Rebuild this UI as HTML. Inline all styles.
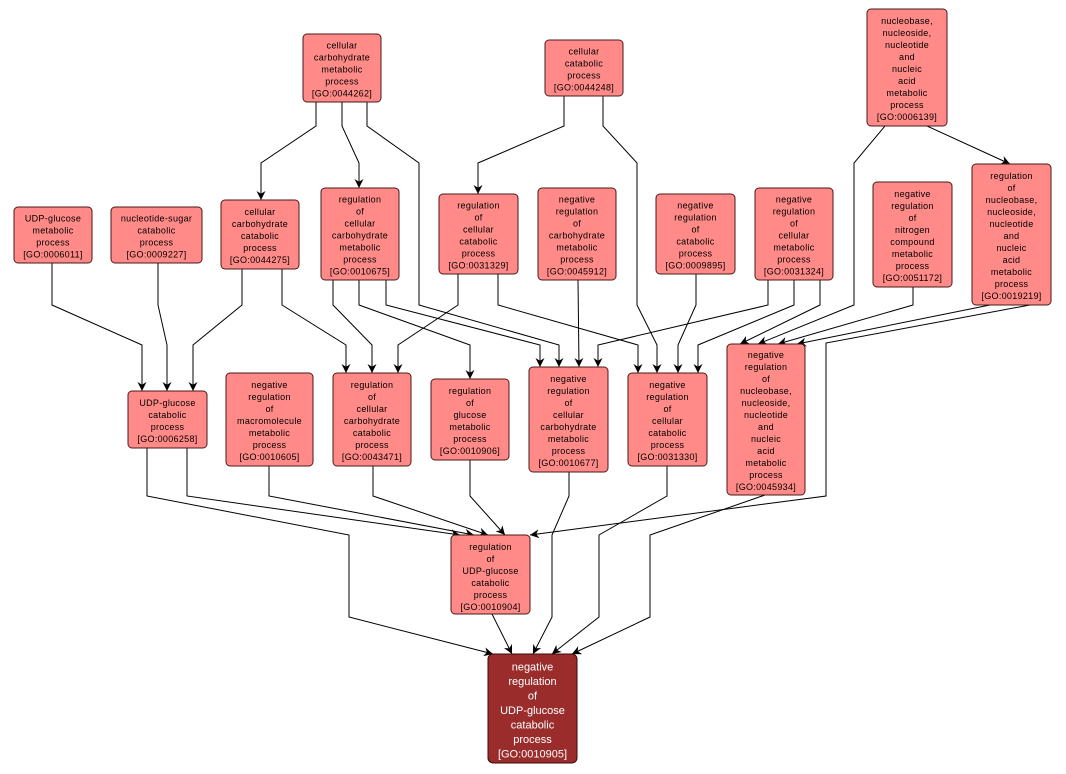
<!DOCTYPE html>
<html><head><meta charset="utf-8"><style>
html,body{margin:0;padding:0;background:#fff;}
svg{display:block;}
text{font-family:"Liberation Sans",sans-serif;font-size:9px;fill:#000;text-anchor:middle;letter-spacing:0.3px;transform:translateY(1.5px);}
.t text{fill:#fff;font-size:11px;letter-spacing:0;}
rect.n{fill:#ff8a87;stroke:#4a1a1a;stroke-width:1;}
path{fill:none;stroke:#000;stroke-width:1;}
</style></head><body>
<svg width="1066" height="774" viewBox="0 0 1066 774">
<defs><marker id="a" viewBox="0 0 10 10" refX="10" refY="5" markerWidth="9" markerHeight="9" orient="auto" markerUnits="userSpaceOnUse"><path d="M0,0 L10,5 L0,10 L3,5 Z" style="fill:#000;stroke:none"/></marker></defs>
<g marker-end="url(#a)">
<path d="M316,102 V126 L261,163 V200"/>
<path d="M342,102 V126 L359,163 V188"/>
<path d="M367,102 V126 L419,163 V305 L559,345 V367"/>
<path d="M564,96 V126 L478,163 V194"/>
<path d="M603,96 V126 L637,163 V305 L657,345 V373"/>
<path d="M927,126 L1010,164"/>
<path d="M885,126 L854,163 V305 L758,344"/>
<path d="M52,263 V305 L142,345 V391"/>
<path d="M158,263 V305 L167,345 V391"/>
<path d="M242,269 V305 L193,345 V391"/>
<path d="M282,269 V305 L346,345 V373"/>
<path d="M333,280 V305 L372,345 V373"/>
<path d="M359,280 V305 L470,345 V379"/>
<path d="M386,280 V305 L540,345 V367"/>
<path d="M458,274 V305 L398,345 V373"/>
<path d="M498,274 V305 L638,345 V373"/>
<path d="M578,280 L579,367"/>
<path d="M696,274 V305 L678,345 V373"/>
<path d="M768,280 V305 L598,345 V367"/>
<path d="M794,280 V305 L698,345 V373"/>
<path d="M820,280 V305 L740,344"/>
<path d="M913,287 V305 L778,344"/>
<path d="M990,305 L797,344"/>
<path d="M1030,305 L826,343 V496 L530,535"/>
<path d="M187,448 V496 L460,535"/>
<path d="M269,466 V496 L474,535"/>
<path d="M373,466 V496 L488,535"/>
<path d="M470,460 V496 L505,535"/>
<path d="M147,448 V496 L349,535 V617 L493,654"/>
<path d="M492,614 L512,654"/>
<path d="M569,472 V496 L552,535 V617 L533,654"/>
<path d="M667,466 V496 L599,535 V617 L552,654"/>
<path d="M765,495 L650,535 V617 L572,654"/>
</g>
<rect class="n" x="303" y="34" width="78" height="68" rx="4"/>
<text x="342" y="47"><tspan x="342">cellular</tspan><tspan x="342" dy="12">carbohydrate</tspan><tspan x="342" dy="12">metabolic</tspan><tspan x="342" dy="12">process</tspan><tspan x="342" dy="12">[GO:0044262]</tspan></text>
<rect class="n" x="545" y="40" width="78" height="56" rx="4"/>
<text x="584" y="53"><tspan x="584">cellular</tspan><tspan x="584" dy="12">catabolic</tspan><tspan x="584" dy="12">process</tspan><tspan x="584" dy="12">[GO:0044248]</tspan></text>
<rect class="n" x="867" y="9" width="80" height="117" rx="4"/>
<text x="907" y="22.5"><tspan x="907">nucleobase,</tspan><tspan x="907" dy="12">nucleoside,</tspan><tspan x="907" dy="12">nucleotide</tspan><tspan x="907" dy="12">and</tspan><tspan x="907" dy="12">nucleic</tspan><tspan x="907" dy="12">acid</tspan><tspan x="907" dy="12">metabolic</tspan><tspan x="907" dy="12">process</tspan><tspan x="907" dy="12">[GO:0006139]</tspan></text>
<rect class="n" x="14" y="207" width="78" height="56" rx="4"/>
<text x="53" y="220"><tspan x="53">UDP-glucose</tspan><tspan x="53" dy="12">metabolic</tspan><tspan x="53" dy="12">process</tspan><tspan x="53" dy="12">[GO:0006011]</tspan></text>
<rect class="n" x="111" y="207" width="91" height="56" rx="4"/>
<text x="156.5" y="220"><tspan x="156.5">nucleotide-sugar</tspan><tspan x="156.5" dy="12">catabolic</tspan><tspan x="156.5" dy="12">process</tspan><tspan x="156.5" dy="12">[GO:0009227]</tspan></text>
<rect class="n" x="221" y="200" width="78" height="69" rx="4"/>
<text x="260" y="213.5"><tspan x="260">cellular</tspan><tspan x="260" dy="12">carbohydrate</tspan><tspan x="260" dy="12">catabolic</tspan><tspan x="260" dy="12">process</tspan><tspan x="260" dy="12">[GO:0044275]</tspan></text>
<rect class="n" x="321" y="188" width="78" height="92" rx="4"/>
<text x="360" y="201"><tspan x="360">regulation</tspan><tspan x="360" dy="12">of</tspan><tspan x="360" dy="12">cellular</tspan><tspan x="360" dy="12">carbohydrate</tspan><tspan x="360" dy="12">metabolic</tspan><tspan x="360" dy="12">process</tspan><tspan x="360" dy="12">[GO:0010675]</tspan></text>
<rect class="n" x="439" y="194" width="79" height="80" rx="4"/>
<text x="478.5" y="207"><tspan x="478.5">regulation</tspan><tspan x="478.5" dy="12">of</tspan><tspan x="478.5" dy="12">cellular</tspan><tspan x="478.5" dy="12">catabolic</tspan><tspan x="478.5" dy="12">process</tspan><tspan x="478.5" dy="12">[GO:0031329]</tspan></text>
<rect class="n" x="538" y="188" width="78" height="92" rx="4"/>
<text x="577" y="201"><tspan x="577">negative</tspan><tspan x="577" dy="12">regulation</tspan><tspan x="577" dy="12">of</tspan><tspan x="577" dy="12">carbohydrate</tspan><tspan x="577" dy="12">metabolic</tspan><tspan x="577" dy="12">process</tspan><tspan x="577" dy="12">[GO:0045912]</tspan></text>
<rect class="n" x="656" y="194" width="79" height="80" rx="4"/>
<text x="695.5" y="207"><tspan x="695.5">negative</tspan><tspan x="695.5" dy="12">regulation</tspan><tspan x="695.5" dy="12">of</tspan><tspan x="695.5" dy="12">catabolic</tspan><tspan x="695.5" dy="12">process</tspan><tspan x="695.5" dy="12">[GO:0009895]</tspan></text>
<rect class="n" x="755" y="188" width="78" height="92" rx="4"/>
<text x="794" y="201"><tspan x="794">negative</tspan><tspan x="794" dy="12">regulation</tspan><tspan x="794" dy="12">of</tspan><tspan x="794" dy="12">cellular</tspan><tspan x="794" dy="12">metabolic</tspan><tspan x="794" dy="12">process</tspan><tspan x="794" dy="12">[GO:0031324]</tspan></text>
<rect class="n" x="873" y="182" width="79" height="105" rx="4"/>
<text x="912.5" y="195.5"><tspan x="912.5">negative</tspan><tspan x="912.5" dy="12">regulation</tspan><tspan x="912.5" dy="12">of</tspan><tspan x="912.5" dy="12">nitrogen</tspan><tspan x="912.5" dy="12">compound</tspan><tspan x="912.5" dy="12">metabolic</tspan><tspan x="912.5" dy="12">process</tspan><tspan x="912.5" dy="12">[GO:0051172]</tspan></text>
<rect class="n" x="972" y="164" width="79" height="141" rx="4"/>
<text x="1011.5" y="177.5"><tspan x="1011.5">regulation</tspan><tspan x="1011.5" dy="12">of</tspan><tspan x="1011.5" dy="12">nucleobase,</tspan><tspan x="1011.5" dy="12">nucleoside,</tspan><tspan x="1011.5" dy="12">nucleotide</tspan><tspan x="1011.5" dy="12">and</tspan><tspan x="1011.5" dy="12">nucleic</tspan><tspan x="1011.5" dy="12">acid</tspan><tspan x="1011.5" dy="12">metabolic</tspan><tspan x="1011.5" dy="12">process</tspan><tspan x="1011.5" dy="12">[GO:0019219]</tspan></text>
<rect class="n" x="128" y="391" width="79" height="57" rx="4"/>
<text x="167.5" y="404.5"><tspan x="167.5">UDP-glucose</tspan><tspan x="167.5" dy="12">catabolic</tspan><tspan x="167.5" dy="12">process</tspan><tspan x="167.5" dy="12">[GO:0006258]</tspan></text>
<rect class="n" x="226" y="373" width="87" height="93" rx="4"/>
<text x="269.5" y="386.5"><tspan x="269.5">negative</tspan><tspan x="269.5" dy="12">regulation</tspan><tspan x="269.5" dy="12">of</tspan><tspan x="269.5" dy="12">macromolecule</tspan><tspan x="269.5" dy="12">metabolic</tspan><tspan x="269.5" dy="12">process</tspan><tspan x="269.5" dy="12">[GO:0010605]</tspan></text>
<rect class="n" x="333" y="373" width="78" height="93" rx="4"/>
<text x="372" y="386.5"><tspan x="372">regulation</tspan><tspan x="372" dy="12">of</tspan><tspan x="372" dy="12">cellular</tspan><tspan x="372" dy="12">carbohydrate</tspan><tspan x="372" dy="12">catabolic</tspan><tspan x="372" dy="12">process</tspan><tspan x="372" dy="12">[GO:0043471]</tspan></text>
<rect class="n" x="431" y="379" width="78" height="81" rx="4"/>
<text x="470" y="392.5"><tspan x="470">regulation</tspan><tspan x="470" dy="12">of</tspan><tspan x="470" dy="12">glucose</tspan><tspan x="470" dy="12">metabolic</tspan><tspan x="470" dy="12">process</tspan><tspan x="470" dy="12">[GO:0010906]</tspan></text>
<rect class="n" x="529" y="367" width="79" height="105" rx="4"/>
<text x="568.5" y="380.5"><tspan x="568.5">negative</tspan><tspan x="568.5" dy="12">regulation</tspan><tspan x="568.5" dy="12">of</tspan><tspan x="568.5" dy="12">cellular</tspan><tspan x="568.5" dy="12">carbohydrate</tspan><tspan x="568.5" dy="12">metabolic</tspan><tspan x="568.5" dy="12">process</tspan><tspan x="568.5" dy="12">[GO:0010677]</tspan></text>
<rect class="n" x="628" y="373" width="79" height="93" rx="4"/>
<text x="667.5" y="386.5"><tspan x="667.5">negative</tspan><tspan x="667.5" dy="12">regulation</tspan><tspan x="667.5" dy="12">of</tspan><tspan x="667.5" dy="12">cellular</tspan><tspan x="667.5" dy="12">catabolic</tspan><tspan x="667.5" dy="12">process</tspan><tspan x="667.5" dy="12">[GO:0031330]</tspan></text>
<rect class="n" x="727" y="344" width="78" height="151" rx="4"/>
<text x="766" y="356.5"><tspan x="766">negative</tspan><tspan x="766" dy="12">regulation</tspan><tspan x="766" dy="12">of</tspan><tspan x="766" dy="12">nucleobase,</tspan><tspan x="766" dy="12">nucleoside,</tspan><tspan x="766" dy="12">nucleotide</tspan><tspan x="766" dy="12">and</tspan><tspan x="766" dy="12">nucleic</tspan><tspan x="766" dy="12">acid</tspan><tspan x="766" dy="12">metabolic</tspan><tspan x="766" dy="12">process</tspan><tspan x="766" dy="12">[GO:0045934]</tspan></text>
<rect class="n" x="451" y="535" width="79" height="79" rx="4"/>
<text x="490.5" y="548.5"><tspan x="490.5">regulation</tspan><tspan x="490.5" dy="12">of</tspan><tspan x="490.5" dy="12">UDP-glucose</tspan><tspan x="490.5" dy="12">catabolic</tspan><tspan x="490.5" dy="12">process</tspan><tspan x="490.5" dy="12">[GO:0010904]</tspan></text>
<rect x="488" y="654" width="89" height="109" rx="5" style="fill:#9a2c2c;stroke:#3a0a0a;stroke-width:1"/>
<g class="t"><text x="532.5" y="669"><tspan x="532.5">negative</tspan><tspan x="532.5" dy="14.5">regulation</tspan><tspan x="532.5" dy="14.5">of</tspan><tspan x="532.5" dy="14.5">UDP-glucose</tspan><tspan x="532.5" dy="14.5">catabolic</tspan><tspan x="532.5" dy="14.5">process</tspan><tspan x="532.5" dy="14.5">[GO:0010905]</tspan></text></g>
</svg>
</body></html>
